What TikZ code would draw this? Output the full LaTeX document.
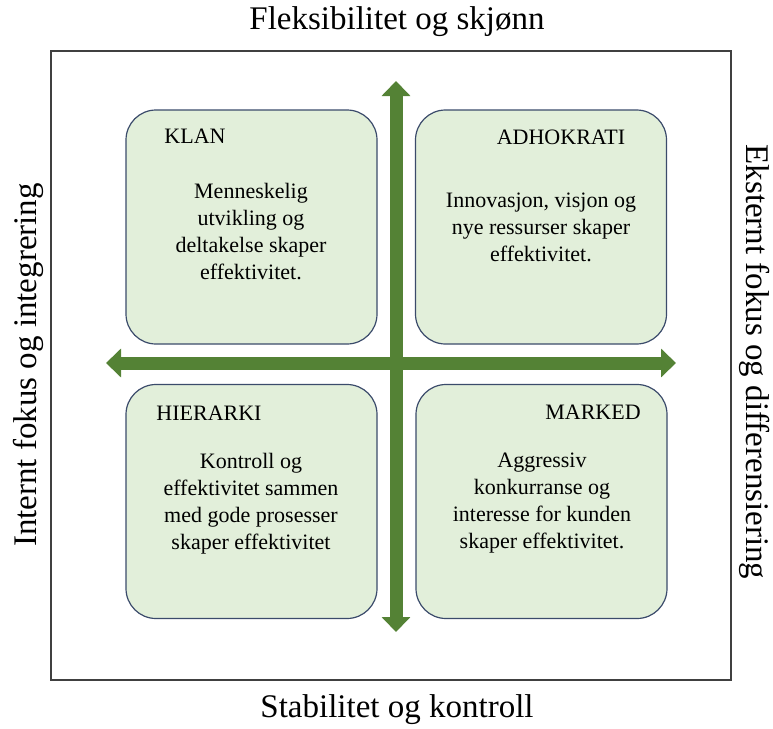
\documentclass[tikz,border=0pt]{standalone}
\usepackage{fontspec}
\setmainfont{Liberation Serif}
\usetikzlibrary{arrows.meta}
\definecolor{boxfill}{HTML}{E2EFDA}
\definecolor{boxline}{HTML}{3B4B6B}
\definecolor{axisgreen}{HTML}{548235}
\begin{document}
\begin{tikzpicture}[x=1pt,y=-1pt,
		quadrant/.style={draw=boxline,line width=1.2pt,fill=boxfill,rounded corners=30pt,minimum width=251pt,minimum height=234pt,inner sep=0pt},
		quadname/.style={font=\fontsize{22}{27}\selectfont,inner sep=0pt},
		quadtext/.style={font=\fontsize{22}{27}\selectfont,align=center,inner sep=0pt},
		axislabel/.style={font=\fontsize{33}{40}\selectfont,inner sep=0pt},
		axis/.style={axisgreen,line width=13pt,{Triangle[width=28pt,length=15pt]}-{Triangle[width=28pt,length=15pt]}}]
			\useasboundingbox (0,0) rectangle (773,728);
			\draw[black!75,line width=1.5pt] (51,51) rectangle (731,680);
			
			% quadrants
			\node[quadrant] (klan) at (251.5,227) {};
			\node[quadrant] (adhokrati) at (541,227) {};
			\node[quadrant] (hierarki) at (251.5,501.5) {};
			\node[quadrant] (marked) at (541.5,501.5) {};
			
			\node[quadname] (klanname) at (195,136) {KLAN};
			\node[quadname] (adhokratiname) at (561,137) {ADHOKRATI};
			\node[quadname] (hierarkiname) at (209,413) {HIERARKI};
			\node[quadname] (markedname) at (593,412) {MARKED};
			
			\node[quadtext] (klantext) at (251,232) {Menneskelig\\utvikling og\\deltakelse skaper\\effektivitet.};
			\node[quadtext] (adhokratitext) at (541,227) {Innovasjon, visjon og\\nye ressurser skaper\\effektivitet.};
			\node[quadtext] (hierarkitext) at (251,504) {Kontroll og\\effektivitet sammen\\med gode prosesser\\skaper effektivitet};
			\node[quadtext] (markedtext) at (542,503) {Aggressiv\\konkurranse og\\interesse for kunden\\skaper effektivitet.};
			
			% axes
			\coordinate (axtop) at (396,81);
			\coordinate (axbottom) at (396,632);
			\coordinate (axleft) at (106,363);
			\coordinate (axright) at (676,363);
			\draw[axis] (axbottom) -- (axtop);
			\draw[axis] (axleft) -- (axright);
			
			\node[axislabel] (flex) at (397,22) {Fleksibilitet og skjønn};
			\node[axislabel] (stab) at (397,710) {Stabilitet og kontroll};
			\node[axislabel,rotate=90] (intern) at (28,365) {Internt fokus og integrering};
			\node[axislabel,rotate=-90] (ekstern) at (755,362) {Eksternt fokus og differensiering};
		\end{tikzpicture}
\end{document}
